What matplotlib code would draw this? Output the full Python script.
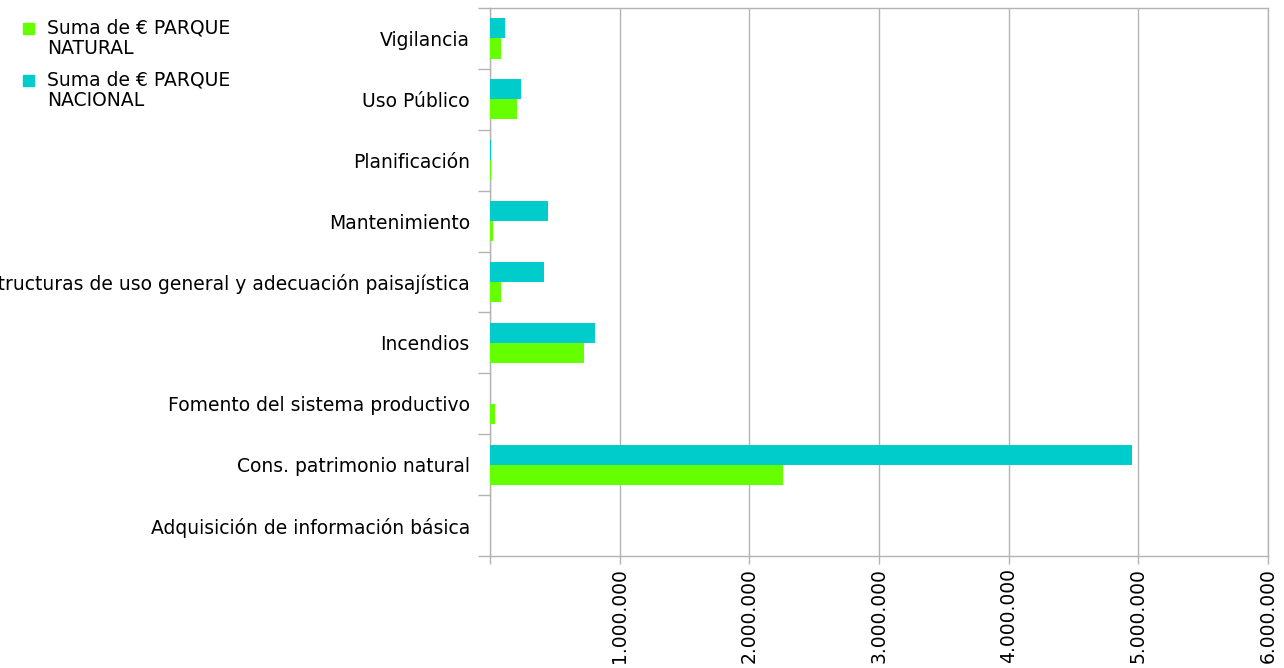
import matplotlib
matplotlib.use("Agg")
import matplotlib.pyplot as plt
import matplotlib.patches as mpatches
import matplotlib.ticker as mticker
import numpy as np

categories = [
    "Adquisición de información básica",
    "Cons. patrimonio natural",
    "Fomento del sistema productivo",
    "Incendios",
    "Infraestructuras de uso general y adecuación paisajística",
    "Mantenimiento",
    "Planificación",
    "Uso Público",
    "Vigilancia",
]
parque_natural = [0, 2260000, 38000, 722000, 82000, 20000, 5000, 206000, 85000]
parque_nacional = [0, 4950000, 0, 812000, 419000, 450000, 10000, 237000, 115000]
series_labels = ["Suma de € PARQUE\nNATURAL", "Suma de € PARQUE\nNACIONAL"]
xticks = [0, 1000000, 2000000, 3000000, 4000000, 5000000, 6000000]

green = "#66ff00"
cyan = "#00cccc"
grid_c = "#b3b3b3"

W, H = 1284, 668
plt.rcParams['font.family'] = ['DejaVu Sans']
fig = plt.figure(figsize=(W/100, H/100), dpi=100)
ax = fig.add_axes([490/W, 1-556/H, (1268-490)/W, (556-8)/H])

y = np.arange(len(categories))
h = 0.33
ax.barh(y - h/2, parque_natural, height=h, color=green, zorder=3)
ax.barh(y + h/2, parque_nacional, height=h, color=cyan, zorder=3)

ax.set_xlim(0, 6000000)
ax.set_ylim(-0.5, len(categories) - 0.5)

ax.set_xticks(xticks)
def fmt(v, pos):
    if v == 0:
        return ""
    return f"{int(v):,}".replace(",", ".")
ax.xaxis.set_major_formatter(mticker.FuncFormatter(fmt))
ax.tick_params(axis='x', labelrotation=90, labelsize=13.5, length=5.5, color=grid_c, width=1, pad=3)
ax.grid(axis='x', color=grid_c, linewidth=1, zorder=0)

# y: boundaries as major ticks, labels as minor
ax.set_yticks(np.arange(-0.5, len(categories), 1.0))
ax.set_yticklabels([])
ax.set_yticks(y, minor=True)
ax.set_yticklabels(categories, minor=True)
ax.tick_params(axis='y', which='major', length=9, color=grid_c, width=1)
ax.tick_params(axis='y', which='minor', length=0, labelsize=13.5, pad=14.5)

for s in ax.spines.values():
    s.set_color(grid_c)
    s.set_linewidth(1)

# legend (top-left, square aligned with first text line)
leg_colors = [green, cyan]
leg_tops = [23, 75]
for lab, col, top in zip(series_labels, leg_colors, leg_tops):
    fig.patches.append(mpatches.Rectangle((23/W, 1-(top+11)/H), 11/W, 11/H,
                                          transform=fig.transFigure, color=col))
    fig.text(47/W, 1-(top-4)/H, lab, fontsize=13.5, va='top', ha='left',
             linespacing=1.08)

fig.savefig("out.png", dpi=100)
